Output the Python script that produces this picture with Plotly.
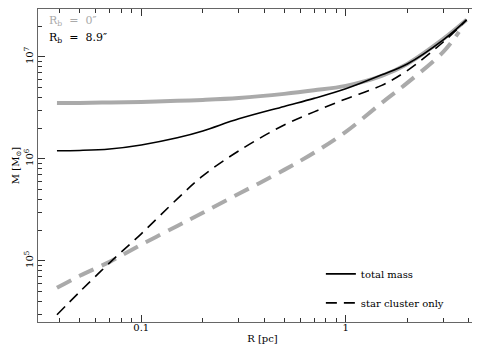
import plotly.graph_objects as go

# radius grid [pc]
r_grid = [0.0387, 0.05, 0.07, 0.1, 0.15, 0.2, 0.3, 0.5, 0.7, 1.0, 1.5, 2.0, 3.0, 3.9]
r_grid_gray_dash = [0.0387, 0.05, 0.07, 0.1, 0.15, 0.2, 0.3, 0.5, 0.7, 1.0, 1.5, 2.0, 3.0, 3.58]

# enclosed mass [Msun]
total_rb0 = [3.54e6, 3.54e6, 3.58e6, 3.62e6, 3.71e6, 3.79e6, 3.96e6, 4.34e6, 4.70e6, 5.20e6, 6.52e6, 8.53e6, 1.50e7, 2.31e7]
total_rb89 = [1.20e6, 1.21e6, 1.25e6, 1.37e6, 1.61e6, 1.88e6, 2.47e6, 3.27e6, 3.92e6, 4.87e6, 6.67e6, 8.53e6, 1.47e7, 2.31e7]
cluster_rb89 = [2.96e4, 4.97e4, 9.55e4, 1.84e5, 4.05e5, 6.81e5, 1.20e6, 2.15e6, 2.89e6, 3.87e6, 5.26e6, 7.35e6, 1.40e7, 2.31e7]
cluster_rb0 = [5.43e4, 7.13e4, 9.77e4, 1.44e5, 2.20e5, 2.96e5, 4.54e5, 7.80e5, 1.15e6, 1.84e6, 3.54e6, 5.56e6, 1.12e7, 1.76e7]

x_minor = [0.04, 0.05, 0.06, 0.07, 0.08, 0.09, 0.2, 0.3, 0.4, 0.5, 0.6, 0.7, 0.8, 0.9, 2, 3, 4]
y_minor = [m * 10**e for e in (4, 5, 6, 7) for m in range(2, 10)]

GRAY = "#aaaaaa"
FONT = "DejaVu Serif"

fig = go.Figure()

fig.add_trace(go.Scatter(x=r_grid, y=total_rb0, mode="lines", showlegend=False,
                         line=dict(color=GRAY, width=4, shape="spline", smoothing=1)))
fig.add_trace(go.Scatter(x=r_grid_gray_dash, y=cluster_rb0, mode="lines", showlegend=False,
                         line=dict(color=GRAY, width=4, dash="16px,9px", shape="spline", smoothing=1)))
fig.add_trace(go.Scatter(x=r_grid, y=total_rb89, mode="lines", name="total mass", legendgroup="a",
                         line=dict(color="black", width=1.6, shape="spline", smoothing=1)))
fig.add_trace(go.Scatter(x=r_grid, y=cluster_rb89, mode="lines", name="star cluster only", legendgroup="b",
                         line=dict(color="black", width=1.6, dash="11px,7px", shape="spline", smoothing=1)))

axis_common = dict(
    showgrid=False, zeroline=False, showline=True, linecolor="#666", linewidth=1,
    mirror="ticks", ticks="inside", ticklen=7, tickcolor="#333", tickwidth=1,
    tickfont=dict(family=FONT, size=10, color="black"),
)

fig.update_xaxes(type="log", range=[-1.505, 0.691],
                 tickvals=[0.1, 1], ticktext=["0.1", "1"], ticklabelstandoff=-4,
                 minor=dict(tickvals=x_minor, ticks="inside", ticklen=4, tickcolor="#333"),
                 title=dict(text="R [pc]", font=dict(family=FONT, size=10, color="black"), standoff=2),
                 **axis_common)
fig.update_yaxes(type="log", range=[4.40, 7.47],
                 tickvals=[1e5, 1e6, 1e7], ticktext=["10<sup>5</sup>", "10<sup>6</sup>", "10<sup>7</sup>"],
                 tickangle=-90,
                 minor=dict(tickvals=y_minor, ticks="inside", ticklen=4, tickcolor="#333"),
                 title=dict(text="M [M<sub>⊙</sub>]", font=dict(family=FONT, size=10, color="black"), standoff=0),
                 **axis_common)

fig.add_annotation(x=0.02, y=0.99, xref="paper", yref="paper", xanchor="left", yanchor="top",
                   text="R<sub>b</sub>  =  0″", showarrow=False,
                   font=dict(family=FONT, size=11, color=GRAY))
fig.add_annotation(x=0.02, y=0.935, xref="paper", yref="paper", xanchor="left", yanchor="top",
                   text="R<sub>b</sub>  =  8.9″", showarrow=False,
                   font=dict(family=FONT, size=11, color="black"))

fig.update_layout(
    width=480, height=349,
    margin=dict(l=30, r=1, t=1, b=35),
    plot_bgcolor="white", paper_bgcolor="white",
    font=dict(family=FONT, size=10, color="black"),
    legend=dict(x=0.63, y=0.2, xanchor="left", yanchor="top",
                bgcolor="rgba(0,0,0,0)", font=dict(family=FONT, size=10, color="black"),
                tracegroupgap=10),
)

fig.write_html("out.html")
